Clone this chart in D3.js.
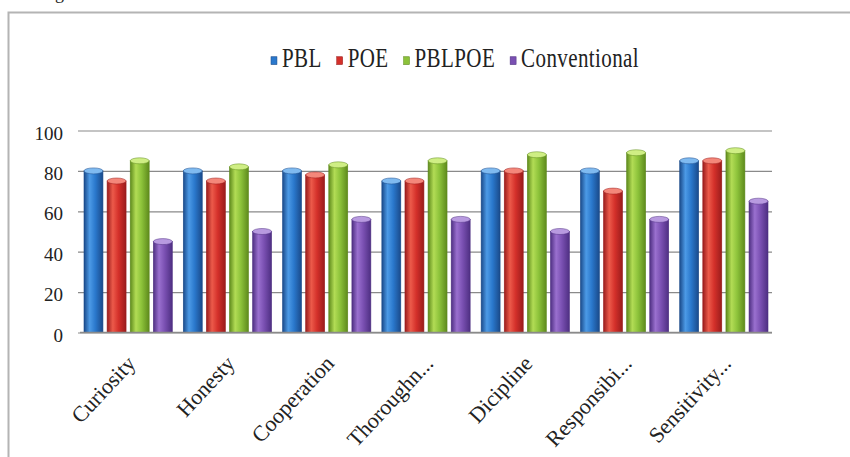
<!DOCTYPE html>
<html>
<head>
<meta charset="utf-8">
<script src="https://cdnjs.cloudflare.com/ajax/libs/d3/7.8.5/d3.min.js"></script>
<style>
  body { margin: 0; background: #fff; }
  svg { display: block; }
  text { font-family: "Liberation Serif", "Times New Roman", serif; fill: #222; }
</style>
</head>
<body>
<div id="chart"></div>
<script>
// data
const categories = ["Curiosity", "Honesty", "Cooperation", "Thoroughn...", "Dicipline", "Responsibi...", "Sensitivity..."];
const seriesNames = ["PBL", "POE", "PBLPOE", "Conventional"];
const pbl = [80, 80, 80, 75, 80, 80, 85];
const poe = [75, 75, 78, 75, 80, 70, 85];
const pblpoe = [85, 82, 83, 85, 88, 89, 90];
const conventional = [45, 50, 56, 56, 50, 56, 65];
const yTicks = [0, 20, 40, 60, 80, 100];

const seriesValues = [pbl, poe, pblpoe, conventional];

// colours for the cylinder look: edge, light, mid, cap
const palette = {
  PBL:          { edge: "#1a4a8a", light: "#4c9ae6", mid: "#2a78cc", cap: "#7fbaf0" },
  POE:          { edge: "#9a1c1c", light: "#ec5a4a", mid: "#d4302a", cap: "#f4877a" },
  PBLPOE:       { edge: "#5e8a1c", light: "#b2dc55", mid: "#8cc23a", cap: "#cfee84" },
  Conventional: { edge: "#4e2f82", light: "#9a70cf", mid: "#7a50b2", cap: "#b89ae0" }
};

const W = 850, H = 457;
const plot = { left: 80, right: 775, top: 130.5, bottom: 332.5 };

const svg = d3.select("#chart").append("svg")
  .attr("width", W)
  .attr("height", H);

// gradients
const defs = svg.append("defs");
seriesNames.forEach(function(s, i) {
  const c = palette[s];
  const g = defs.append("linearGradient")
    .attr("id", "grad" + i)
    .attr("x1", "0%").attr("x2", "100%").attr("y1", "0%").attr("y2", "0%");
  g.append("stop").attr("offset", "0%").attr("stop-color", c.edge);
  g.append("stop").attr("offset", "30%").attr("stop-color", c.light);
  g.append("stop").attr("offset", "60%").attr("stop-color", c.mid);
  g.append("stop").attr("offset", "100%").attr("stop-color", c.edge);
});

// outer frame (runs off the right and bottom)
svg.append("rect")
  .attr("x", 8.5).attr("y", 12.5)
  .attr("width", 900).attr("height", 500)
  .attr("fill", "none")
  .attr("stroke", "#b4b4b4")
  .attr("stroke-width", 2);

// caption above the frame, cut by the page top as in the scan
svg.append("text")
  .attr("x", 40).attr("y", -1)
  .style("font-size", "18px")
  .text("Figure");

// scales
const x0 = d3.scaleBand()
  .domain(categories)
  .range([plot.left, plot.right]);

const x1 = d3.scaleBand()
  .domain(seriesNames)
  .range([4, x0.bandwidth() - 7])
  .paddingInner(0.18);

const y = d3.scaleLinear()
  .domain([0, 100])
  .range([plot.bottom, plot.top]);

// gridlines
const grid = svg.append("g")
  .attr("transform", "translate(78,0)")
  .call(d3.axisLeft(y).tickValues(yTicks).tickSize(-(772 - 78)).tickFormat(""));
grid.select(".domain").remove();
grid.selectAll("line").attr("stroke", "#8a8a8a").attr("stroke-width", 1.2);

// y labels
const yAxis = svg.append("g")
  .attr("transform", "translate(63,0)")
  .call(d3.axisLeft(y).tickValues(yTicks).tickSize(0).tickPadding(0));
yAxis.select(".domain").remove();
yAxis.selectAll("text")
  .attr("dy", "0.45em")
  .style("font-size", "19px")
  .attr("fill", "#222");

// bars
const groups = svg.append("g")
  .selectAll("g")
  .data(categories)
  .enter().append("g")
    .attr("transform", function(d) { return "translate(" + x0(d) + ",0)"; });

groups.selectAll("g.bar")
  .data(function(d, ci) {
    return seriesNames.map(function(s, si) { return { key: s, si: si, value: seriesValues[si][ci] }; });
  })
  .enter().append("g")
    .attr("class", "bar")
    .each(function(d) {
      const g = d3.select(this);
      const bx = x1(d.key), bw = x1.bandwidth();
      g.append("rect")
        .attr("x", bx)
        .attr("y", y(d.value))
        .attr("width", bw)
        .attr("height", y(0) - y(d.value))
        .attr("fill", "url(#grad" + d.si + ")")
        .attr("stroke", palette[d.key].edge)
        .attr("stroke-width", 0.6);
      g.append("ellipse")
        .attr("cx", bx + bw / 2)
        .attr("cy", y(d.value))
        .attr("rx", bw / 2)
        .attr("ry", 3)
        .attr("fill", palette[d.key].cap)
        .attr("stroke", palette[d.key].edge)
        .attr("stroke-width", 0.5);
    });

// baseline
svg.append("line")
  .attr("x1", 80).attr("x2", 772)
  .attr("y1", y(0)).attr("y2", y(0))
  .attr("stroke", "#8a8a8a")
  .attr("stroke-width", 1.5);

// x labels
const xAxis = svg.append("g")
  .attr("transform", "translate(0," + y(0) + ")")
  .call(d3.axisBottom(x0).tickSize(0));
xAxis.select(".domain").remove();
xAxis.selectAll("text")
  .attr("y", null)
  .attr("dy", null)
  .attr("text-anchor", "end")
  .attr("transform", "translate(7,32) rotate(-47)")
  .style("font-size", "22px")
  .attr("fill", "#222");

// legend, laid out from measured text widths
const legend = svg.append("g")
  .attr("transform", "translate(0,67) scale(1,1.28)");
const items = legend.selectAll("g")
  .data(seriesNames)
  .enter().append("g");
items.append("rect")
  .attr("width", 6).attr("height", 6)
  .attr("y", -8)
  .attr("fill", function(d) { return palette[d].mid; })
  .attr("stroke", function(d) { return palette[d].edge; })
  .attr("stroke-width", 0.5);
items.append("text")
  .attr("x", 11)
  .style("font-size", "21px")
  .style("letter-spacing", "0.4px")
  .text(function(d) { return d; });

const itemGap = 15;
let widths = [];
items.each(function() { widths.push(11 + this.querySelector("text").getComputedTextLength()); });
const total = d3.sum(widths) + itemGap * (widths.length - 1);
let cursor = 455 - total / 2;
items.attr("transform", function(d, i) {
  const t = "translate(" + cursor + ",0)";
  cursor += widths[i] + itemGap;
  return t;
});
</script>
</body>
</html>
